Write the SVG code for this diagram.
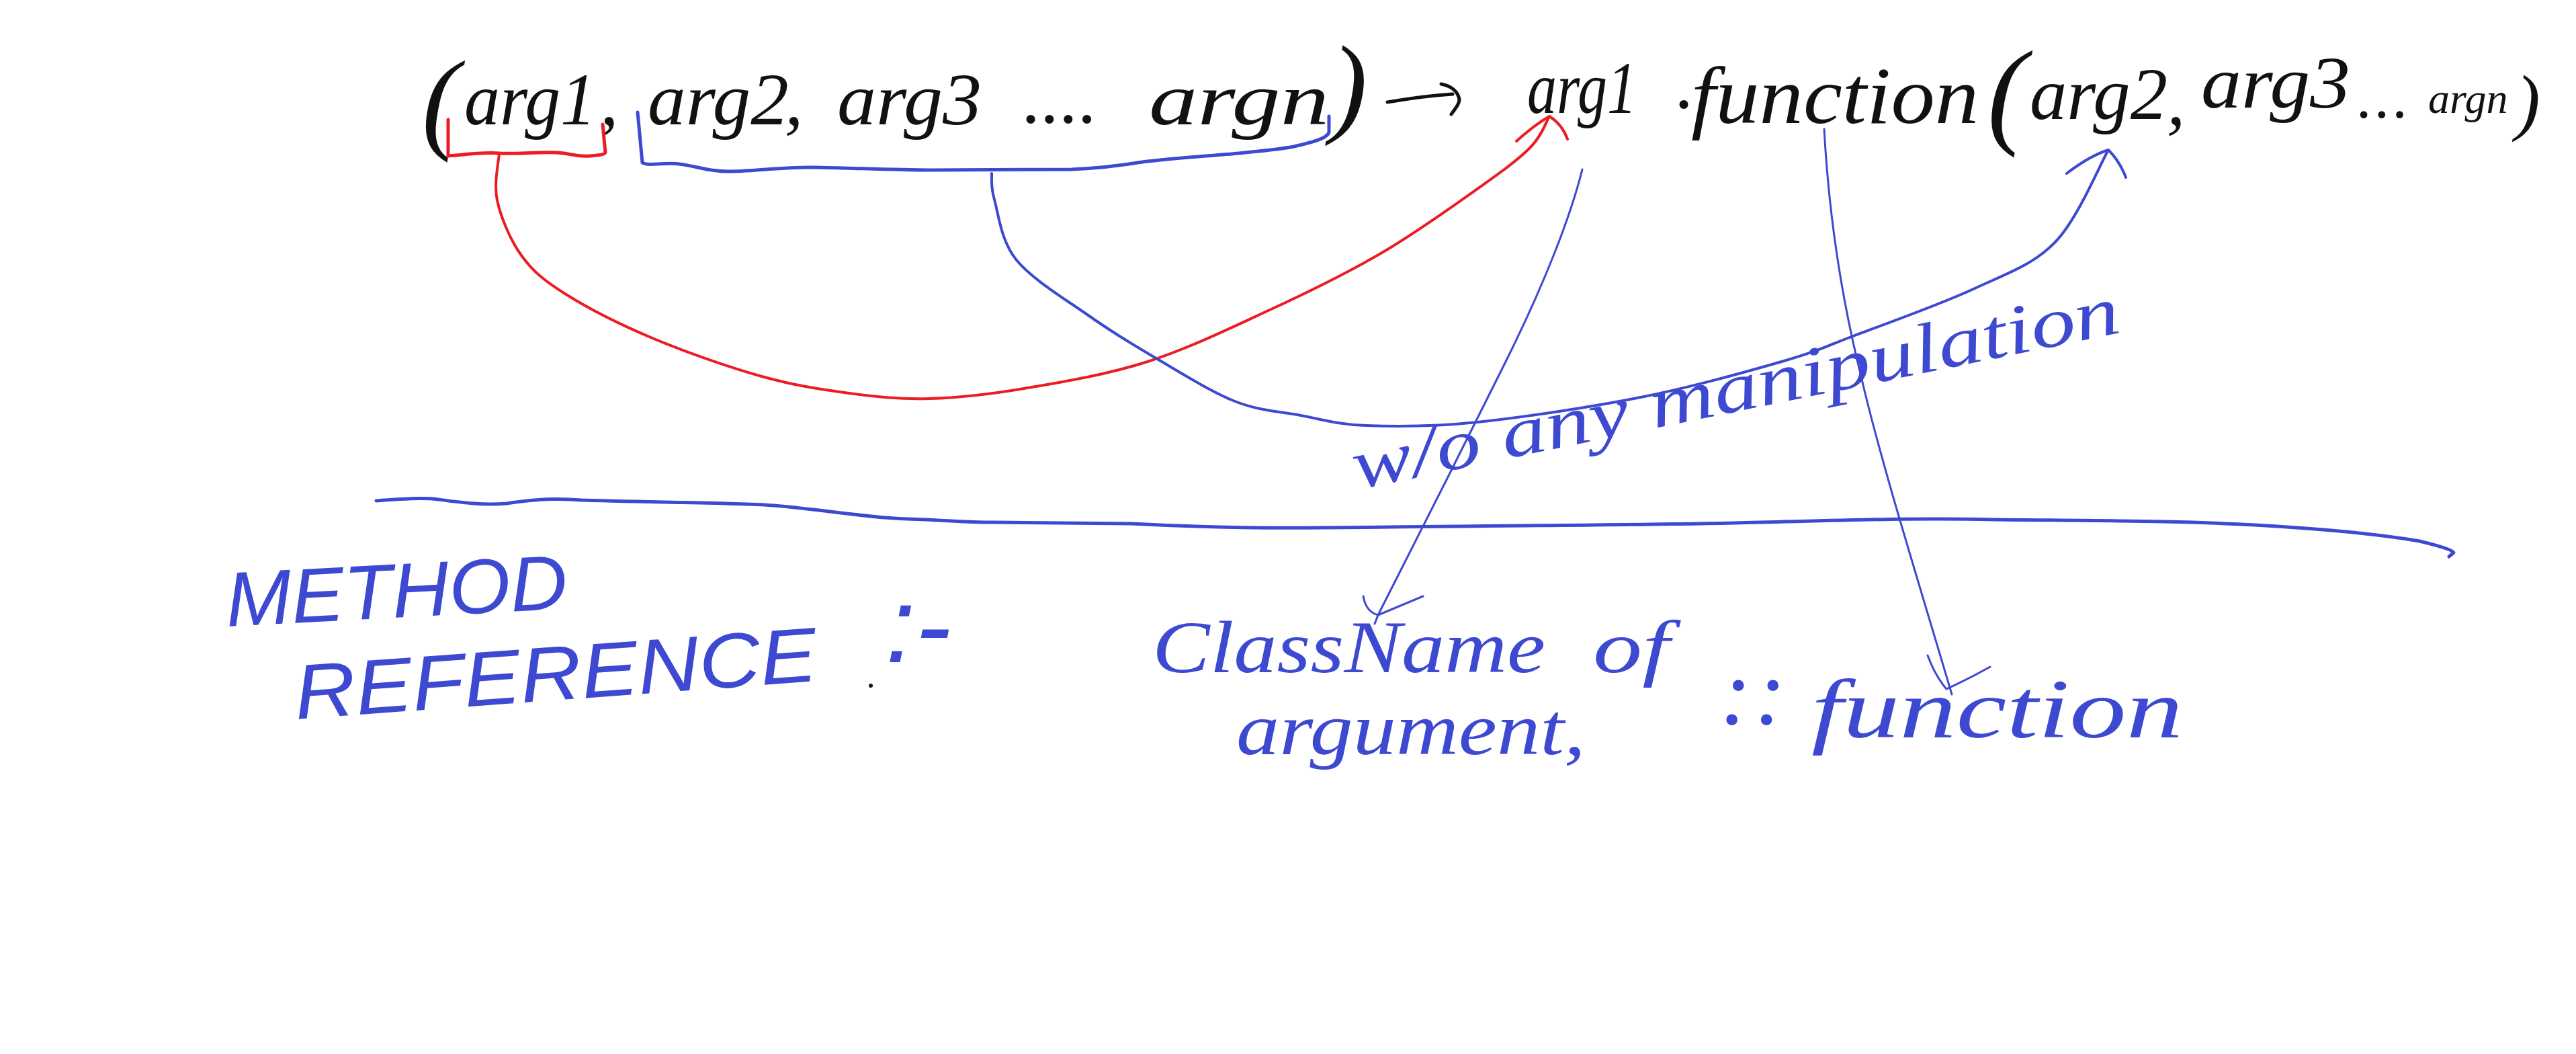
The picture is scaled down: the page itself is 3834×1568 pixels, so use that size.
<svg xmlns="http://www.w3.org/2000/svg" width="3834" height="1568" viewBox="0 0 3834 1568">
<style>
.h{font-family:"Liberation Serif","DejaVu Serif",serif;font-style:italic}
.c{font-family:"Liberation Sans","DejaVu Sans",sans-serif;font-style:italic}
.k{fill:#111}
.b{fill:#3d49d1}
.ln{fill:none;stroke-linecap:round;stroke-linejoin:round}
.red{stroke:#ec1c24}
.blue{stroke:#3d49d1}
.blk{stroke:#111}
</style>
<rect width="3834" height="1568" fill="#fff"/>

<g id="expr-left" class="h k">
<text x="628" y="206" font-size="167">(</text>
<text x="691" y="185" font-size="110" textLength="196" lengthAdjust="spacingAndGlyphs">arg1</text>
<text x="893" y="185" font-size="110">,</text>
<text x="964" y="185" font-size="110" textLength="210" lengthAdjust="spacingAndGlyphs">arg2</text>
<text x="1168" y="185" font-size="110">,</text>
<text x="1246" y="185" font-size="110" textLength="215" lengthAdjust="spacingAndGlyphs">arg3</text>
<text x="1523" y="182" font-size="110" textLength="111" lengthAdjust="spacing">....</text>
<text x="1710" y="185" font-size="110" textLength="268" lengthAdjust="spacingAndGlyphs">argn</text>
<text x="1980" y="182" font-size="165">)</text>
</g>

<g id="arrow-map">
<path class="ln blk" stroke-width="5" d="M2065,152 C2100,146 2130,142 2162,140"/>
<path class="ln blk" stroke-width="5" d="M2145,125 C2160,128 2170,136 2172,148 C2172,156 2165,162 2160,170"/>
</g>

<g id="expr-right" class="h k">
<text x="2273" y="168" font-size="110" textLength="163" lengthAdjust="spacingAndGlyphs">arg1</text>
<text x="2495" y="160" font-size="110">.</text>
<text x="2517" y="183" font-size="120" textLength="428" lengthAdjust="spacingAndGlyphs">function</text>
<text x="2958" y="197" font-size="175">(</text>
<text x="3021" y="177" font-size="110" textLength="205" lengthAdjust="spacingAndGlyphs">arg2</text>
<text x="3225" y="185" font-size="110">,</text>
<text x="3276" y="160" font-size="110" textLength="222" lengthAdjust="spacingAndGlyphs">arg3</text>
<text x="3509" y="175" font-size="90" textLength="76" lengthAdjust="spacing">...</text>
<text x="3614" y="168" font-size="64">argn</text>
<text x="3744" y="188" font-size="110">)</text>
</g>

<g id="divider">
<path class="ln blue" stroke-width="5" d="M560,745 C600,742 630,740 652,743 C690,748 720,752 754,749 C800,742 830,741 866,744 C1000,748 1100,748 1152,752 C1260,762 1300,772 1377,773 C1420,775 1440,777 1479,777 C1560,778 1620,778 1683,779 C1800,785 1900,786 1969,785 C2050,784 2100,784 2172,783 C2350,781 2450,781 2581,778 C2750,774 2850,770 2968,773 C3150,775 3250,775 3356,781 C3480,788 3560,798 3601,805 C3630,812 3650,818 3652,822 L3645,828"/>
</g>

<g id="label-method" class="c b">
<text transform="translate(338,932) rotate(-3)" font-size="115" textLength="509" lengthAdjust="spacingAndGlyphs">METHOD</text>
<text transform="translate(441,1070) rotate(-4.2)" font-size="115" textLength="779" lengthAdjust="spacingAndGlyphs">REFERENCE</text>
<text x="1318" y="985" font-size="160">:-</text>
<circle cx="1296" cy="1020" r="3" fill="#111"/>
</g>

<g id="label-wo" class="h b">
<text transform="translate(2020,728) rotate(-11.6)" font-size="105" textLength="1163" lengthAdjust="spacingAndGlyphs">w/o any manipulation</text>
</g>

<g id="label-classname" class="h b">
<text x="1715" y="1000" font-size="110" textLength="585" lengthAdjust="spacingAndGlyphs">ClassName</text>
<text x="2371" y="1000" font-size="110" textLength="114" lengthAdjust="spacingAndGlyphs">of</text>
<text x="1840" y="1122" font-size="110" textLength="520" lengthAdjust="spacingAndGlyphs">argument,</text>
</g>

<g id="label-function" class="h b">
<text x="2560" y="1077" font-size="140" textLength="98" lengthAdjust="spacing">::</text>
<text x="2696" y="1097" font-size="125" textLength="553" lengthAdjust="spacingAndGlyphs">function</text>
</g>

<g id="connectors">
<path class="ln red" stroke-width="5" d="M667,178 L667,232 C690,230 720,226 744,228 C780,230 810,224 839,228 C855,231 868,233 878,232 C890,231 900,230 901,227 L897,185"/>
<path class="ln red" stroke-width="4" d="M743,228 C742.5,239.7 734.5,272.7 740,298 C745.5,323.3 759.2,356.8 776,380 C792.8,403.2 808.5,416.5 841,437 C873.5,457.5 922.2,482.5 971,503 C1019.8,523.5 1085.2,546.3 1134,560 C1182.8,573.7 1222.5,579.5 1264,585 C1305.5,590.5 1339.7,594.2 1383,593 C1426.3,591.8 1469.8,587.2 1524,578 C1578.2,568.8 1646.7,557.7 1708,538 C1769.3,518.3 1834.2,486.8 1892,460 C1949.8,433.2 2004.3,406.5 2055,377 C2105.7,347.5 2159,309.2 2196,283 C2233,256.8 2258.7,238.3 2277,220 C2295.3,201.7 2301.2,180.8 2306,173"/>
<path class="ln red" stroke-width="4" d="M2257,210 Q2285,185 2306,173 Q2325,185 2333,207"/>
<path class="ln blue" stroke-width="5" d="M949,167 L956,242 C962,246 970,244 978,244 C995,243 1005,243 1011,244 C1040,248 1060,256 1088,255 C1130,254 1170,248 1212,249 C1270,250 1330,253 1385,253 C1460,253 1530,252 1595,252 C1640,250 1670,246 1700,241 C1750,235 1800,232 1844,228 C1880,224 1910,222 1930,217 C1960,210 1975,205 1978,197 L1978,173"/>
<path class="ln blue" stroke-width="4" d="M1476,258 C1476.7,264.5 1473.8,275.5 1480,297 C1486.2,318.5 1489.5,358.2 1513,387 C1536.5,415.8 1586.7,445.8 1621,470 C1655.3,494.2 1682.8,510.8 1719,532 C1755.2,553.2 1801.8,582.7 1838,597 C1874.2,611.3 1903.5,612 1936,618 C1968.5,624 1989.2,631.3 2033,633 C2076.8,634.7 2130,635.2 2199,628 C2268,620.8 2371,605.2 2447,590 C2523,574.8 2603.2,552 2655,537 C2706.8,522 2711,517.8 2758,500 C2805,482.2 2886.8,453.3 2937,430 C2987.2,406.7 3025.5,394.5 3059,360 C3092.5,325.5 3124.8,245.8 3138,223"/>
<path class="ln blue" stroke-width="4" d="M3076,258 Q3110,232 3138,223 Q3155,240 3164,264"/>
<path class="ln blue" stroke-width="3" d="M2355,252 C2338,320 2300,420 2240,540 C2180,660 2110,800 2051,915"/>
<path class="ln blue" stroke-width="3" d="M2029,887 Q2033,910 2051,915 L2118,887 M2051,915 L2046,928"/>
<path class="ln blue" stroke-width="3" d="M2715,192 C2722,320 2740,440 2770,560 C2800,690 2860,880 2905,1033"/>
<path class="ln blue" stroke-width="3" d="M2869,975 Q2880,1005 2897,1025 Q2930,1010 2962,992"/>
</g>
</svg>
